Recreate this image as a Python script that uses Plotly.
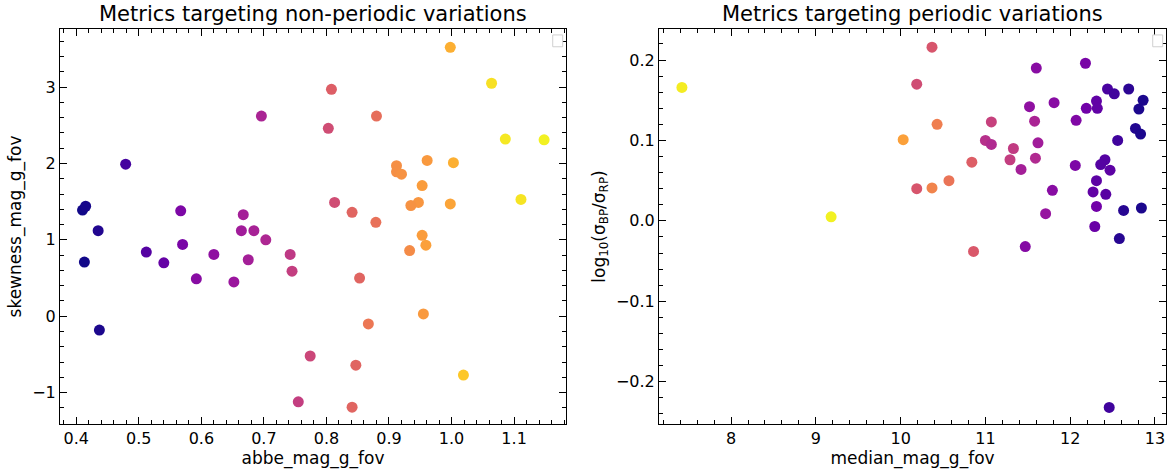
import plotly.graph_objects as go

# Left panel: Abbe value vs skewness of the G-band per-FoV magnitudes
abbe_mag_g_fov = [0.410, 0.415, 0.435, 0.479, 0.567, 0.696, 0.667, 0.664, 0.684, 0.703,
                  0.413, 0.437, 0.512, 0.540, 0.570, 0.592, 0.620, 0.652, 0.675, 0.742,
                  0.745, 0.755, 0.998, 1.064, 0.808, 0.880, 0.803, 1.086, 1.148, 0.961,
                  1.003, 0.912, 0.912, 0.920, 0.953, 1.111, 0.813, 0.947, 0.935, 0.998,
                  0.841, 0.879, 0.953, 0.959, 0.933, 0.853, 0.955, 0.867, 0.774, 0.847,
                  1.019, 0.841]
skewness_mag_g_fov = [1.39, 1.44, 1.12, 1.99, 1.38, 2.62, 1.33, 1.12, 1.12, 1.00,
                      0.71, -0.18, 0.84, 0.70, 0.94, 0.49, 0.81, 0.45, 0.74, 0.81,
                      0.59, -1.12, 3.52, 3.05, 2.97, 2.62, 2.46, 2.32, 2.31, 2.04,
                      2.01, 1.97, 1.89, 1.86, 1.71, 1.53, 1.49, 1.49, 1.45, 1.47,
                      1.36, 1.23, 1.06, 0.93, 0.86, 0.50, 0.03, -0.10, -0.52, -0.64,
                      -0.77, -1.19]
colour_left = [0.01, 0.02, 0.04, 0.11, 0.25, 0.38, 0.36, 0.35, 0.37, 0.39,
               0.01, 0.03, 0.15, 0.19, 0.24, 0.28, 0.30, 0.33, 0.36, 0.45,
               0.47, 0.47, 0.82, 0.94, 0.58, 0.63, 0.52, 0.96, 0.98, 0.76,
               0.82, 0.73, 0.73, 0.74, 0.77, 0.95, 0.52, 0.75, 0.74, 0.79,
               0.60, 0.64, 0.77, 0.78, 0.72, 0.60, 0.76, 0.66, 0.50, 0.60,
               0.88, 0.60]

# Right panel: median G magnitude vs log10 of the BP/RP scatter ratio
median_mag_g_fov = [7.42, 9.18, 10.37, 11.60, 12.18, 10.19, 12.44, 12.52, 12.69, 12.86,
                    12.81, 11.81, 11.52, 12.31, 12.19, 12.32, 10.43, 11.07, 11.58, 12.07,
                    10.03, 11.00, 11.07, 11.33, 11.62, 12.77, 12.83, 12.56, 10.84, 11.29,
                    11.59, 11.42, 12.06, 12.41, 12.36, 12.47, 10.57, 12.31, 10.19, 10.37,
                    11.79, 12.27, 12.42, 12.31, 12.63, 12.84, 11.71, 12.29, 12.58, 10.86,
                    11.47, 12.46]
log_sigma_ratio = [0.166, 0.005, 0.216, 0.190, 0.196, 0.170, 0.164, 0.158, 0.164, 0.150,
                   0.139, 0.147, 0.142, 0.149, 0.140, 0.140, 0.120, 0.123, 0.124, 0.125,
                   0.101, 0.100, 0.095, 0.090, 0.097, 0.115, 0.108, 0.100, 0.073, 0.076,
                   0.078, 0.064, 0.069, 0.076, 0.070, 0.063, 0.050, 0.050, 0.040, 0.041,
                   0.038, 0.036, 0.033, 0.018, 0.013, 0.016, 0.009, -0.007, -0.022, -0.038,
                   -0.032, -0.232]
colour_right = [0.97, 0.98, 0.55, 0.28, 0.24, 0.52, 0.12, 0.10, 0.06, 0.03,
                0.03, 0.28, 0.30, 0.18, 0.22, 0.18, 0.68, 0.48, 0.38, 0.26,
                0.78, 0.42, 0.40, 0.46, 0.35, 0.04, 0.03, 0.10, 0.58, 0.47,
                0.40, 0.36, 0.25, 0.15, 0.15, 0.17, 0.65, 0.17, 0.55, 0.70,
                0.28, 0.18, 0.16, 0.22, 0.05, 0.03, 0.32, 0.20, 0.05, 0.56,
                0.27, 0.10]

FONT = "DejaVu Sans"

fig = go.Figure()
marker_common = dict(size=11, colorscale="Plasma", cmin=0, cmax=1, line=dict(width=0))
fig.add_trace(go.Scatter(x=abbe_mag_g_fov, y=skewness_mag_g_fov, mode="markers",
                         marker=dict(color=colour_left, **marker_common),
                         xaxis="x", yaxis="y", showlegend=False))
fig.add_trace(go.Scatter(x=median_mag_g_fov, y=log_sigma_ratio, mode="markers",
                         marker=dict(color=colour_right, **marker_common),
                         xaxis="x2", yaxis="y2", showlegend=False))

axis_common = dict(showline=True, linecolor="black", linewidth=1, mirror="allticks",
                   ticks="inside", ticklen=7, tickwidth=1.3, tickcolor="black",
                   showgrid=False, zeroline=False,
                   tickfont=dict(family=FONT, size=16, color="black"),
                   title_font=dict(family=FONT, size=17, color="black"))


def minor(dt):
    return dict(ticks="inside", ticklen=4, tickwidth=1, tickcolor="black", dtick=dt, showgrid=False)


fig.update_layout(
    width=1170, height=472,
    margin=dict(l=60, r=4, t=29, b=48),
    plot_bgcolor="white", paper_bgcolor="white",
    font=dict(family=FONT, color="black"),
    xaxis=dict(domain=[0, 0.4575], range=[0.374, 1.183], dtick=0.1, tick0=0.4,
               tickformat=".1f", minor=minor(0.02),
               title=dict(text="abbe_mag_g_fov", standoff=4),
               anchor="y", **axis_common),
    yaxis=dict(domain=[0, 1], range=[-1.41, 3.76], dtick=1, minor=minor(0.2),
               tickformat="d", title=dict(text="skewness_mag_g_fov", standoff=6),
               anchor="x", **axis_common),
    xaxis2=dict(domain=[0.5416, 1], range=[7.15, 13.13], dtick=1, minor=minor(0.2),
                title=dict(text="median_mag_g_fov", standoff=4), anchor="y2", **axis_common),
    yaxis2=dict(domain=[0, 1], range=[-0.2526, 0.2386], dtick=0.1, tickformat=".1f",
                minor=minor(0.02),
                title=dict(text="log<sub>10</sub>(σ<sub>BP</sub>/σ<sub>RP</sub>)", standoff=6),
                anchor="x2", **axis_common),
)

# Panel titles
for xc, txt in [(0.4575 / 2, "Metrics targeting non-periodic variations"),
                ((0.5416 + 1) / 2, "Metrics targeting periodic variations")]:
    fig.add_annotation(x=xc, y=1, xref="paper", yref="paper", xanchor="center", yanchor="bottom",
                       yshift=1, text=txt, showarrow=False,
                       font=dict(family=FONT, size=21, color="black"))

# Empty legend frames in the upper-right corner of each panel
for dom_right in [0.4575, 1.0]:
    fig.add_shape(type="rect", xref="paper", yref="paper",
                  x0=dom_right - 0.012, x1=dom_right - 0.003, y0=0.955, y1=0.985,
                  line=dict(color="#d0d0d0", width=1), fillcolor="white")

fig.write_html("out.html")
